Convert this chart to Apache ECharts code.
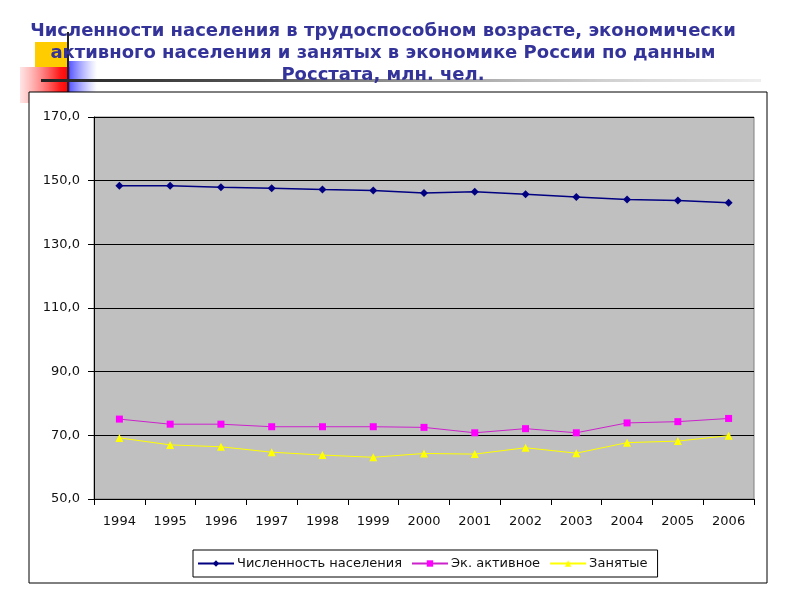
<!DOCTYPE html>
<html><head><meta charset="utf-8">
<script src="https://cdn.jsdelivr.net/npm/echarts@6/dist/echarts.min.js"></script>
<style>html,body{margin:0;padding:0;background:#fff}#c{width:800px;height:600px}</style>
</head><body><div id="c"></div>
<script>
const titleText = 'Численности населения в трудоспособном возрасте, экономически\nактивного населения и занятых в экономике России по данным\nРосстата, млн. чел.';
const years = ['1994','1995','1996','1997','1998','1999','2000','2001','2002','2003','2004','2005','2006'];
const seriesNames = ['Численность населения','Эк. активное','Занятые'];
const population = [148.4,148.4,147.9,147.6,147.2,146.9,146.1,146.5,145.7,144.9,144.1,143.8,143.1];
const active = [75.1,73.5,73.5,72.7,72.7,72.7,72.5,70.8,72.1,70.8,73.9,74.3,75.3];
const employed = [69.2,67.0,66.4,64.7,63.8,63.1,64.3,64.1,66.1,64.4,67.7,68.2,69.9];

const chart = echarts.init(document.getElementById('c'));
const font = '"DejaVu Sans", Verdana, sans-serif';
chart.setOption({
  animation: false,
  backgroundColor: '#fff',
  graphic: [
    {type:'rect', z:0, shape:{x:35,y:42,width:32,height:25}, style:{fill:'#ffcc00'}},
    {type:'rect', z:0, shape:{x:20,y:67,width:50,height:36}, style:{fill:new echarts.graphic.LinearGradient(0,0,1,0,[{offset:0,color:'rgba(255,80,80,0.15)'},{offset:0.8,color:'rgba(255,0,0,0.9)'},{offset:1,color:'#ff0000'}])}},
    {type:'rect', z:0, shape:{x:67,y:61,width:30,height:34}, style:{fill:new echarts.graphic.LinearGradient(0,0,1,0,[{offset:0,color:'rgba(60,60,255,0.95)'},{offset:1,color:'rgba(120,120,255,0)'}])}},
    {type:'line', z:1, shape:{x1:68,y1:32,x2:68,y2:92}, style:{stroke:'#222',lineWidth:2}},
    {type:'rect', z:1, shape:{x:41,y:79,width:720,height:3}, style:{fill:new echarts.graphic.LinearGradient(0,0,1,0,[{offset:0,color:'#222'},{offset:0.3,color:'#555'},{offset:1,color:'rgba(200,200,200,0.3)'}])}},
    {type:'rect', z:2, shape:{x:29,y:92,width:738,height:491}, style:{fill:'#fff',stroke:'#000',lineWidth:1}},
    {type:'text', z:3, x:383, y:20, style:{text:titleText, textAlign:'center', textVerticalAlign:'top', font:'bold 18px "DejaVu Sans", Verdana, sans-serif', fill:'#333399', lineHeight:22}}
  ],
  grid: {left:94, right:46, top:117, bottom:101, show:true, backgroundColor:'#c0c0c0', borderColor:'#808080', borderWidth:1, z:5},
  xAxis: {
    type:'category', data: years, boundaryGap:true, z:10,
    axisLine:{lineStyle:{color:'#000'}},
    axisTick:{show:true, length:6, lineStyle:{color:'#000'}},
    axisLabel:{color:'#111', fontFamily:font, fontSize:13, margin:16}
  },
  yAxis: {
    type:'value', min:50, max:170, interval:20, z:10,
    axisLine:{show:true, lineStyle:{color:'#000'}},
    axisTick:{show:true, length:6, lineStyle:{color:'#000'}},
    splitLine:{lineStyle:{color:'#000', width:1}},
    axisLabel:{color:'#111', fontFamily:font, fontSize:13, margin:14, formatter: v => v.toFixed(1).replace('.', ',')}
  },
  legend: {
    left:193, top:550, z:10,
    borderColor:'#000', borderWidth:1, padding:[7,10,7,4],
    itemWidth:36, itemHeight:8, itemGap:9,
    textStyle:{fontFamily:font, fontSize:13, color:'#111', padding:[0,0,0,-2]},
    data: seriesNames
  },
  series: [
    {name:seriesNames[0], type:'line', data:population, symbol:'diamond', symbolSize:8, z:12,
     lineStyle:{color:'#000080', width:1.5}, itemStyle:{color:'#000080'}},
    {name:seriesNames[1], type:'line', data:active, symbol:'rect', symbolSize:7, z:12,
     lineStyle:{color:'#cc22cc', width:1}, itemStyle:{color:'#ff00ff'}},
    {name:seriesNames[2], type:'line', data:employed, symbol:'triangle', symbolSize:8, z:12,
     lineStyle:{color:'#ffff00', width:1}, itemStyle:{color:'#ffff00'}}
  ]
});
</script></body></html>
